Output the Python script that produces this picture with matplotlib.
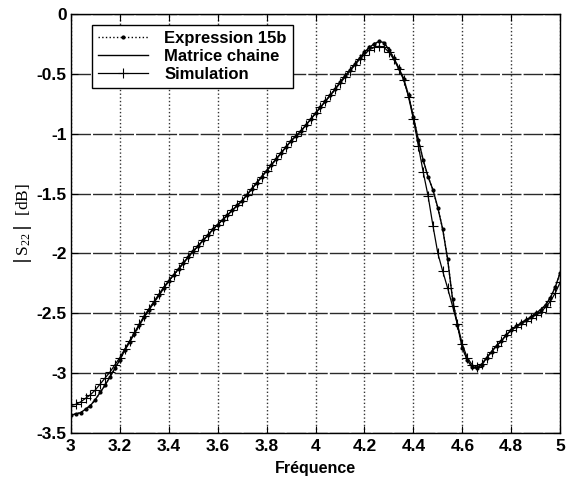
import numpy as np
import matplotlib
matplotlib.use("Agg")
import matplotlib.pyplot as plt

# frequency grid (step 0.02)
freq = np.round(np.arange(3.0, 5.0001, 0.02), 2)

expression_15b = [
    -3.35, -3.34, -3.33, -3.30, -3.27, -3.22, -3.16, -3.10, -3.03, -2.96,
    -2.89, -2.81, -2.74, -2.67, -2.60, -2.53, -2.47, -2.41, -2.35, -2.29,
    -2.23, -2.18, -2.13, -2.08, -2.03, -1.98, -1.94, -1.89, -1.85, -1.80,
    -1.76, -1.72, -1.68, -1.64, -1.60, -1.56, -1.51, -1.46, -1.41, -1.36,
    -1.31, -1.26, -1.21, -1.16, -1.11, -1.06, -1.02, -0.98, -0.93, -0.88,
    -0.83, -0.78, -0.73, -0.68, -0.63, -0.57, -0.52, -0.47, -0.42, -0.37,
    -0.32, -0.28, -0.25, -0.23, -0.24, -0.30, -0.37, -0.45, -0.54, -0.68,
    -0.86, -1.05, -1.22, -1.36, -1.47, -1.62, -1.80, -2.05, -2.38, -2.60,
    -2.79, -2.89, -2.95, -2.96, -2.93, -2.87, -2.82, -2.77, -2.73, -2.68,
    -2.64, -2.61, -2.58, -2.555, -2.53, -2.50, -2.47, -2.43, -2.37, -2.28,
    -2.16,
]

# the chain-matrix curve lies on top of expression 15b
matrice_chaine = list(expression_15b)

simulation = [
    -3.27, -3.26, -3.24, -3.21, -3.18, -3.14, -3.09, -3.04, -2.99, -2.93,
    -2.87, -2.80, -2.73, -2.66, -2.59, -2.52, -2.46, -2.40, -2.34, -2.28,
    -2.23, -2.18, -2.13, -2.08, -2.03, -1.98, -1.94, -1.89, -1.85, -1.80,
    -1.76, -1.72, -1.68, -1.64, -1.60, -1.56, -1.51, -1.46, -1.41, -1.36,
    -1.31, -1.26, -1.21, -1.16, -1.11, -1.06, -1.02, -0.98, -0.93, -0.88,
    -0.83, -0.78, -0.73, -0.68, -0.63, -0.58, -0.53, -0.48, -0.43, -0.38,
    -0.34, -0.30, -0.28, -0.27, -0.28, -0.32, -0.38, -0.46, -0.55, -0.69,
    -0.88, -1.10, -1.32, -1.52, -1.77, -2.00, -2.15, -2.29, -2.44, -2.59,
    -2.76, -2.87, -2.93, -2.95, -2.92, -2.87, -2.82, -2.77, -2.73, -2.68,
    -2.64, -2.615, -2.59, -2.565, -2.54, -2.515, -2.49, -2.45, -2.40, -2.33,
    -2.24,
]

xticks = [3, 3.2, 3.4, 3.6, 3.8, 4, 4.2, 4.4, 4.6, 4.8, 5]
xtick_labels = ["3", "3.2", "3.4", "3.6", "3.8", "4", "4.2", "4.4", "4.6", "4.8", "5"]
yticks = [-3.5, -3, -2.5, -2, -1.5, -1, -0.5, 0]
ytick_labels = ["-3.5", "-3", "-2.5", "-2", "-1.5", "-1", "-0.5", "0"]

plt.rcParams['font.family'] = ['Liberation Sans', 'DejaVu Sans']

fig = plt.figure(figsize=(5.67, 4.78), dpi=100)
ax = fig.add_axes([0.125, 0.094, 0.863, 0.877])

ax.plot(freq, expression_15b, linestyle=':', color='black', lw=1,
        marker='.', markersize=4, label='Expression 15b')
ax.plot(freq, matrice_chaine, linestyle='-', color='black', lw=1,
        label='Matrice chaine')
ax.plot(freq, simulation, linestyle='-', color='black', lw=0.9,
        marker='+', markersize=7, markeredgewidth=0.8, label='Simulation')

ax.set_xlim(3, 5)
ax.set_ylim(-3.5, 0)
ax.set_xticks(xticks)
ax.set_xticklabels(xtick_labels)
ax.set_yticks(yticks)
ax.set_yticklabels(ytick_labels)
ax.tick_params(direction='in', top=True, right=True, labelsize=12.5, length=5,
               colors='black')
ax.tick_params(axis='x', pad=4)
ax.tick_params(axis='y', pad=3)
for lab in ax.get_xticklabels() + ax.get_yticklabels():
    lab.set_fontweight('bold')

# MATLAB style grid: horizontal lines dark dashed, vertical lines dotted
ax.yaxis.grid(True, linestyle=(0, (14, 1.5)), color='#2a2a2a', lw=1)
ax.xaxis.grid(True, linestyle=':', color='#333333', lw=1)
for s in ax.spines.values():
    s.set_linewidth(1)
    s.set_color('black')

ax.set_xlabel('Fréquence', fontsize=11.5, fontweight='bold', labelpad=5)
ax.set_ylabel(r'$|\,\mathregular{S_{22}}\,|$  [dB]', fontsize=12.5,
              family='Liberation Serif', labelpad=2)

leg = ax.legend(loc='upper left', bbox_to_anchor=(0.043, 0.974),
                prop={'size': 12, 'weight': 'bold'},
                frameon=True, fancybox=False, edgecolor='black', framealpha=1,
                borderpad=0.35, labelspacing=0.2, handlelength=3.0,
                handletextpad=1.0, borderaxespad=0)
leg.get_frame().set_linewidth(1)

fig.savefig('out.png', dpi=100)
